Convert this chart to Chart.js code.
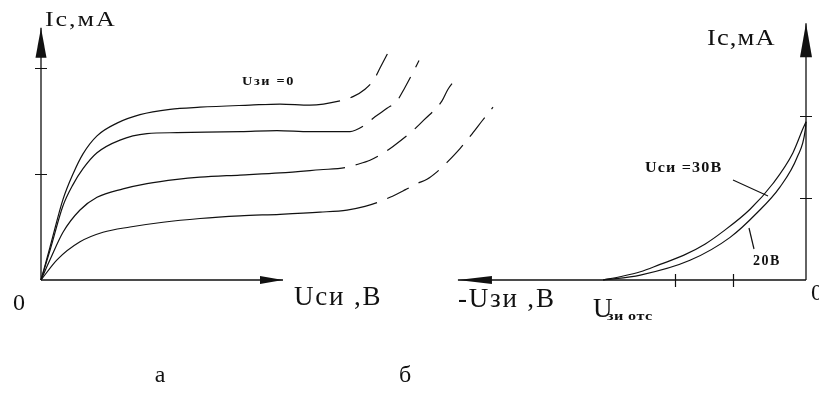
<!DOCTYPE html>
<html>
<head>
<meta charset="utf-8">
<script src="https://cdn.jsdelivr.net/npm/chart.js@4.4.1/dist/chart.umd.min.js"></script>
<style>
  body { margin: 0; background: #fff; }
  .wrap { position: relative; width: 819px; height: 403px; }
  .wrap canvas { position: absolute; left: 0; top: 0; }
</style>
</head>
<body>
<div class="wrap">
  <canvas id="outputChart" width="819" height="403"></canvas>
  <canvas id="transferChart" width="819" height="403"></canvas>
</div>
<script>
// --- (а) output characteristics: Uси, В -> Iс, мА, one curve per gate voltage
const usi0 = [0, 0.9, 2.2, 3.2, 4.2, 5.6, 7.6, 9.9, 12.9, 15.9, 20.9, 23.9, 26.9, 29.9, 31.2, 32.4, 33.3, 33.9, 34.9];
const ic0  = [0, 0.31, 0.76, 1.0, 1.19, 1.36, 1.48, 1.56, 1.61, 1.63, 1.65, 1.66, 1.65, 1.69, 1.73, 1.80, 1.89, 2.0, 2.18];

const usi1 = [0, 0.9, 2.2, 3.2, 4.2, 5.6, 7.9, 10.6, 13.6, 20.0, 23.6, 26.9, 30.9, 32.2, 33.4, 34.6, 35.6, 36.3, 37.1, 37.8];
const ic1  = [0, 0.28, 0.70, 0.90, 1.05, 1.20, 1.32, 1.38, 1.39, 1.40, 1.41, 1.40, 1.40, 1.45, 1.54, 1.62, 1.69, 1.80, 1.94, 2.07];

const usi2 = [0, 0.9, 2.2, 3.9, 5.6, 8.2, 10.6, 13.6, 15.9, 19.9, 23.9, 27.9, 30.4, 31.6, 32.9, 34.1, 35.2, 37.2, 38.3, 40.1, 40.7, 41.6];
const ic2  = [0, 0.19, 0.45, 0.66, 0.78, 0.86, 0.91, 0.95, 0.97, 0.99, 1.01, 1.04, 1.06, 1.09, 1.13, 1.19, 1.26, 1.41, 1.51, 1.69, 1.80, 1.91];

const usi3 = [0, 1.6, 3.9, 6.2, 8.9, 12.2, 15.9, 19.9, 23.9, 27.9, 30.6, 32.4, 33.6, 34.9, 36.4, 37.6, 38.6, 39.6, 40.6, 41.9, 43.2, 44.1, 45.2];
const ic3  = [0, 0.19, 0.36, 0.45, 0.50, 0.545, 0.58, 0.605, 0.62, 0.64, 0.66, 0.695, 0.73, 0.78, 0.85, 0.91, 0.95, 1.02, 1.11, 1.24, 1.39, 1.50, 1.63];

// breakdown region (drawn dashed) starts at these Uси
const breakdownFrom = [29.9, 32.2, 30.4, 33.6];
const outputTicksY = [1, 2];

// --- (б) transfer characteristics: -Uзи, В -> Iс, мА
const uzi30 = [2.78, 2.55, 2.27, 2.0, 1.68, 1.38, 1.14, 0.77, 0.45, 0.18, 0.04, 0];
const ic30  = [0, 0.04, 0.10, 0.19, 0.30, 0.44, 0.59, 0.86, 1.18, 1.55, 1.85, 1.93];
const uzi20 = [2.78, 2.27, 1.59, 1.04, 0.67, 0.36, 0.12, 0.01, 0];
const ic20  = [0, 0.06, 0.24, 0.52, 0.82, 1.13, 1.50, 1.83, 1.93];

const transferTicksX = [1, 1.8];
const transferTicksY = [1, 2];

const INK = '#111';
const SERIF = '"Liberation Serif", "Times New Roman", serif';

function toPoints(xs, ys) {
  return xs.map((v, i) => ({ x: v, y: ys[i] }));
}

// axis lines with filled arrowheads and small cross ticks
const arrowAxes = {
  id: 'arrowAxes',
  afterDraw(chart, args, opts) {
    const { ctx, scales: { x, y } } = chart;
    const x0 = x.getPixelForValue(0);
    const y0 = y.getPixelForValue(0);
    const xEnd = x.getPixelForValue(opts.xEnd);
    const yEnd = y.getPixelForValue(opts.yEnd);
    const dir = Math.sign(xEnd - x0);

    ctx.save();
    ctx.strokeStyle = INK;
    ctx.fillStyle = INK;
    ctx.lineWidth = 1.3;
    ctx.beginPath();
    ctx.moveTo(x0, y0);
    ctx.lineTo(xEnd, y0);
    ctx.moveTo(x0, y0);
    ctx.lineTo(x0, yEnd);
    ctx.stroke();

    const [xl, xw] = opts.xArrow;
    ctx.beginPath();
    ctx.moveTo(xEnd, y0);
    ctx.lineTo(xEnd - dir * xl, y0 - xw);
    ctx.lineTo(xEnd - dir * xl, y0 + xw);
    ctx.closePath();
    ctx.fill();

    const [yl, yw] = opts.yArrow;
    ctx.beginPath();
    ctx.moveTo(x0, yEnd);
    ctx.lineTo(x0 - yw, yEnd + yl);
    ctx.lineTo(x0 + yw, yEnd + yl);
    ctx.closePath();
    ctx.fill();

    ctx.lineWidth = 1.2;
    ctx.beginPath();
    (opts.yTicks || []).forEach(v => {
      const py = Math.round(y.getPixelForValue(v)) + 0.5;
      ctx.moveTo(x0 - 6, py);
      ctx.lineTo(x0 + 6, py);
    });
    (opts.xTicks || []).forEach(v => {
      const px = Math.round(x.getPixelForValue(v)) + 0.5;
      ctx.moveTo(px, y0 - 6);
      ctx.lineTo(px, y0 + 7);
    });
    ctx.stroke();

    (opts.leaders || []).forEach(pts => {
      ctx.beginPath();
      ctx.moveTo(pts[0], pts[1]);
      ctx.lineTo(pts[2], pts[3]);
      ctx.stroke();
    });
    ctx.restore();
  }
};

// free text: axis names, curve captions, sub-figure letters
const captions = {
  id: 'captions',
  afterDraw(chart, args, opts) {
    const { ctx } = chart;
    (opts.items || []).forEach(t => {
      ctx.save();
      ctx.fillStyle = INK;
      ctx.font = (t.bold ? 'bold ' : '') + t.size + 'px ' + SERIF;
      ctx.letterSpacing = (t.spacing || 0) + 'px';
      ctx.textBaseline = 'alphabetic';
      ctx.textAlign = t.align || 'left';
      ctx.translate(t.x, t.y);
      ctx.scale(t.sx || 1, 1);
      ctx.fillText(t.text, 0, 0);
      ctx.restore();
    });
  }
};

function curve(xs, ys, dashFrom) {
  const dashed = c => dashFrom !== undefined && c.p0.parsed.x >= dashFrom;
  return {
    data: toPoints(xs, ys),
    borderColor: INK,
    borderWidth: 1.2,
    pointRadius: 0,
    showLine: true,
    cubicInterpolationMode: 'monotone',
    clip: false,
    segment: {
      borderDash: c => (dashed(c) ? [24, 11] : undefined),
      borderDashOffset: c => (dashed(c) ? 24 : 0)
    }
  };
}

const baseOptions = {
  responsive: false,
  animation: false,
  events: [],
  plugins: { legend: { display: false }, tooltip: { enabled: false } }
};

// (а) output family: 10 px per volt, 106 px per mA, origin at (41, 280)
new Chart(document.getElementById('outputChart'), {
  type: 'scatter',
  data: {
    datasets: [
      curve(usi0, ic0, breakdownFrom[0]),
      curve(usi1, ic1, breakdownFrom[1]),
      curve(usi2, ic2, breakdownFrom[2]),
      curve(usi3, ic3, breakdownFrom[3])
    ]
  },
  options: {
    ...baseOptions,
    layout: { padding: { left: 41, right: 318, top: 25.6, bottom: 123 } },
    scales: {
      x: { type: 'linear', min: 0, max: 46, display: false },
      y: { type: 'linear', min: 0, max: 2.4, display: false }
    },
    plugins: {
      ...baseOptions.plugins,
      arrowAxes: { xEnd: 24.2, yEnd: 2.38, xArrow: [23, 4], yArrow: [30, 5.5], yTicks: outputTicksY },
      captions: {
        items: [
          { text: 'Ic,мА', x: 45, y: 26, size: 20, sx: 1.3, spacing: 1.5 },
          { text: 'Uзи =0', x: 242, y: 85, size: 13, bold: true, sx: 1.1, spacing: 1.5 },
          { text: '0', x: 13, y: 310, size: 24 },
          { text: 'Uси ,В', x: 294, y: 305, size: 27, spacing: 1.8 },
          { text: 'а', x: 160, y: 382, size: 24, align: 'center' }
        ]
      }
    }
  },
  plugins: [arrowAxes, captions]
});

// (б) transfer curves: reversed -Uзи axis, 73 px per volt, 82 px per mA
new Chart(document.getElementById('transferChart'), {
  type: 'scatter',
  data: {
    datasets: [curve(uzi30, ic30), curve(uzi20, ic20)]
  },
  options: {
    ...baseOptions,
    layout: { padding: { left: 455, right: 13, top: 21.7, bottom: 123 } },
    scales: {
      x: { type: 'linear', reverse: true, min: 0, max: 4.81, display: false },
      y: { type: 'linear', min: 0, max: 3.15, display: false }
    },
    plugins: {
      ...baseOptions.plugins,
      arrowAxes: {
        xEnd: 4.77, yEnd: 3.13, xArrow: [34, 4], yArrow: [34, 6],
        xTicks: transferTicksX, yTicks: transferTicksY,
        leaders: [[733, 180, 768, 196], [749, 228, 754, 249]]
      },
      captions: {
        items: [
          { text: 'Ic,мА', x: 707, y: 45, size: 23, sx: 1.15, spacing: 1 },
          { text: 'Uси =30В', x: 645, y: 172, size: 14, bold: true, sx: 1.15, spacing: 1 },
          { text: '20В', x: 753, y: 265, size: 14, bold: true, spacing: 1.5 },
          { text: '-Uзи ,В', x: 458, y: 307, size: 27, spacing: 1.8 },
          { text: 'U', x: 593, y: 317, size: 27 },
          { text: 'зи отс', x: 607, y: 320, size: 12, bold: true, sx: 1.35, spacing: 0.3 },
          { text: '0', x: 811, y: 300, size: 24 },
          { text: 'б', x: 405, y: 382, size: 24, align: 'center' }
        ]
      }
    }
  },
  plugins: [arrowAxes, captions]
});
</script>
</body>
</html>
